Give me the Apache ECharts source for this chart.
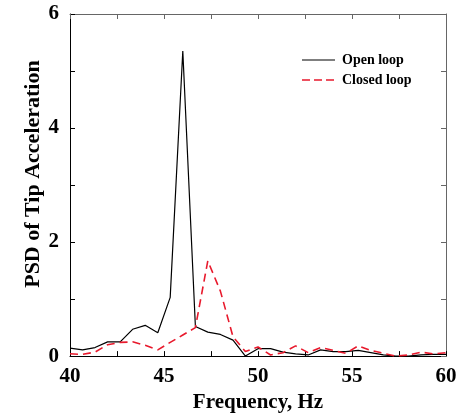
<!DOCTYPE html>
<html>
<head>
<meta charset="utf-8">
<script src="https://cdn.jsdelivr.net/npm/echarts@6/dist/echarts.min.js"></script>
<style>html,body{margin:0;padding:0;background:#fff}#c{width:466px;height:418px}</style>
</head>
<body>
<div id="c"></div>
<script>
var freq = [40, 40.67, 41.33, 42, 42.67, 43.33, 44, 44.67, 45.33, 46, 46.67, 47.33, 48, 48.67, 49.33, 50,
            50.67, 51.33, 52, 52.67, 53.33, 54, 54.67, 55.33, 56, 56.67, 57.33, 58, 58.67, 59.33, 60];
var openLoop = [0.14, 0.11, 0.15, 0.25, 0.25, 0.47, 0.54, 0.41, 1.03, 5.35, 0.52, 0.42, 0.38, 0.28, 0.0, 0.13,
                0.13, 0.07, 0.04, 0.02, 0.11, 0.08, 0.08, 0.1, 0.06, 0.02, 0.0, 0.0, 0.02, 0.03, 0.03];
var closedLoop = [0.04, 0.03, 0.07, 0.2, 0.24, 0.25, 0.19, 0.11, 0.24, 0.37, 0.5, 1.67, 1.14, 0.34, 0.08, 0.16,
                  0.02, 0.06, 0.18, 0.06, 0.15, 0.1, 0.05, 0.18, 0.1, 0.05, 0.0, 0.02, 0.07, 0.04, 0.06];
var xLabels = [40, 45, 50, 55, 60];
var yLabels = [0, 2, 4, 6];
var seriesNames = ['Open loop', 'Closed loop'];
var colors = ['#000', '#e8192c'];

function pairs(xs, ys) { return xs.map(function (x, i) { return [x, ys[i]]; }); }
var font = 'Liberation Serif';
var redDash = [8, 5];

function legendItem(i, y, dash, width) {
  return [{
    type: 'line', shape: { x1: 302, y1: y, x2: 335, y2: y },
    style: { stroke: colors[i], lineWidth: width, lineDash: dash }
  }, {
    type: 'text', x: 342, y: y,
    style: { text: seriesNames[i], fill: '#000', font: 'bold 14px "' + font + '"', verticalAlign: 'middle' }
  }];
}

var chart = echarts.init(document.getElementById('c'));
chart.setOption({
  animation: false,
  backgroundColor: '#fff',
  grid: { left: 70, right: 20, top: 14, bottom: 55 },
  graphic: legendItem(0, 60, null, 1.2).concat(legendItem(1, 80, [8, 4], 1.5)),
  xAxis: [{
    type: 'value', min: 40, max: 60, interval: 2.5,
    name: 'Frequency, Hz', nameLocation: 'middle', nameGap: 30,
    nameTextStyle: { fontFamily: font, fontWeight: 'bold', fontSize: 21, color: '#000' },
    axisLine: { lineStyle: { color: '#000', width: 1 } },
    axisTick: { inside: true, length: 5, lineStyle: { color: '#000' } },
    axisLabel: { margin: 10, fontFamily: font, fontWeight: 'bold', fontSize: 21, color: '#000',
      formatter: function (v) { return xLabels.indexOf(v) >= 0 ? String(v) : ''; } },
    splitLine: { show: false }
  }, {
    type: 'value', min: 40, max: 60, interval: 2.5, position: 'top',
    axisLine: { show: true, onZero: false, lineStyle: { color: '#666' } },
    axisTick: { inside: true, length: 5, lineStyle: { color: '#666' } },
    axisLabel: { show: false }, splitLine: { show: false }
  }],
  yAxis: [{
    type: 'value', min: 0, max: 6, interval: 1,
    name: 'PSD of Tip Acceleration', nameLocation: 'middle', nameGap: 26, nameMoveOverlap: false,
    nameTextStyle: { fontFamily: font, fontWeight: 'bold', fontSize: 22, color: '#000', padding: [0, 0, 0, 22] },
    axisLine: { show: true, lineStyle: { color: '#000' } },
    axisTick: { inside: true, length: 5, lineStyle: { color: '#000' } },
    axisLabel: { margin: 11, fontFamily: font, fontWeight: 'bold', fontSize: 21, color: '#000',
      formatter: function (v) { return yLabels.indexOf(v) >= 0 ? String(v) : ''; } },
    splitLine: { show: false }
  }, {
    type: 'value', min: 0, max: 6, interval: 1, position: 'right',
    axisLine: { show: true, onZero: false, lineStyle: { color: '#666' } },
    axisTick: { inside: true, length: 5, lineStyle: { color: '#666' } },
    axisLabel: { show: false }, splitLine: { show: false }
  }],
  series: [{
    name: seriesNames[0], type: 'line', data: pairs(freq, openLoop), symbol: 'none',
    lineStyle: { color: colors[0], width: 1.2 }
  }, {
    name: seriesNames[1], type: 'line', data: pairs(freq, closedLoop), symbol: 'none',
    lineStyle: { color: colors[1], width: 1.6, type: redDash }
  }]
});
</script>
</body>
</html>
